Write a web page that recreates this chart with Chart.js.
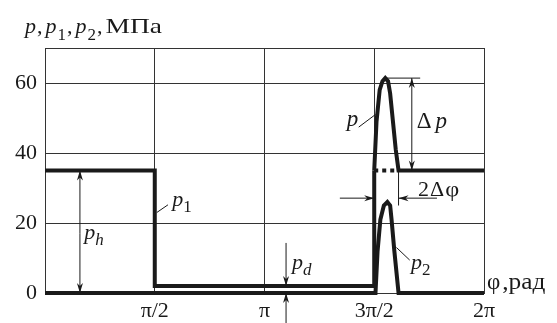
<!DOCTYPE html>
<html>
<head>
<meta charset="utf-8">
<script src="https://cdn.jsdelivr.net/npm/chart.js@4/dist/chart.umd.min.js"></script>
<style>
  body { margin: 0; background: #fff; }
  canvas { display: block; }
</style>
</head>
<body>
<canvas id="pressureChart" width="557" height="323"></canvas>
<script>
// tick labels
const xTickVals = [0, Math.PI / 2, Math.PI, 3 * Math.PI / 2, 2 * Math.PI];
const xTickText = ["", "π/2", "π", "3π/2", "2π"];
const yTickVals = [0, 20, 40, 60, 70];
const yTickText = ["0", "20", "40", "60", ""];

// p1 (solid part, then dotted part under the p peak)
const p1X = [0, 1.571, 1.571, 4.712, 4.712];
const p1Y = [35, 35, 2, 2, 35];
const p1DotX = [4.712, 5.05];
const p1DotY = [35, 35];

// p = p1 + p2
const pX = [4.712, 4.745, 4.79, 4.83, 4.87, 4.91, 4.94, 4.98, 5.02, 5.06, 6.283];
const pY = [35, 49, 58, 60.5, 61.4, 60.5, 57, 49, 41, 35, 35];

// p2
const p2X = [0, 4.73, 4.76, 4.8, 4.85, 4.9, 4.94, 4.96, 5.0, 5.06, 6.283];
const p2Y = [0, 0, 12, 21, 25, 26, 25, 21, 12, 0, 0];

function zip(xs, ys) {
  return xs.map((x, i) => ({ x: x, y: ys[i] }));
}

const ink = "#1a1a1a";
const serif = "'Liberation Serif', 'DejaVu Serif', serif";

function lineDs(xs, ys, dash) {
  return {
    data: zip(xs, ys),
    borderColor: ink,
    borderWidth: 4,
    borderDash: dash || [],
    pointRadius: 0,
    tension: 0,
    clip: false,
    borderJoinStyle: "miter",
  };
}

// draws text made of parts: {t, it (italic), sub, gap, sx (horizontal stretch)}
function richText(ctx, parts, x, y, size) {
  let cx = x;
  parts.forEach((pt) => {
    const fs = pt.sub ? Math.round(size * 0.76) : size;
    const sx = pt.sx || 1;
    ctx.font = (pt.it ? "italic " : "") + fs + "px " + serif;
    ctx.save();
    ctx.translate(cx, y + (pt.sub ? size * 0.3 : 0));
    ctx.scale(sx, 1);
    ctx.fillText(pt.t, 0, 0);
    ctx.restore();
    cx += ctx.measureText(pt.t).width * sx + (pt.gap || 0);
  });
}

function arrow(ctx, x1, y1, x2, y2) {
  ctx.beginPath();
  ctx.moveTo(x1, y1);
  ctx.lineTo(x2, y2);
  ctx.stroke();
  const a = Math.atan2(y2 - y1, x2 - x1);
  const len = 10, w = 3;
  ctx.beginPath();
  ctx.moveTo(x2, y2);
  ctx.lineTo(x2 - len * Math.cos(a) + w * Math.sin(a), y2 - len * Math.sin(a) - w * Math.cos(a));
  ctx.lineTo(x2 - len * Math.cos(a) * 0.7, y2 - len * Math.sin(a) * 0.7);
  ctx.lineTo(x2 - len * Math.cos(a) - w * Math.sin(a), y2 - len * Math.sin(a) + w * Math.cos(a));
  ctx.closePath();
  ctx.fill();
}

function seg(ctx, x1, y1, x2, y2) {
  ctx.beginPath();
  ctx.moveTo(x1, y1);
  ctx.lineTo(x2, y2);
  ctx.stroke();
}

const notes = {
  id: "notes",
  afterDatasetsDraw(chart) {
    const ctx = chart.ctx;
    const xs = chart.scales.x, ys = chart.scales.y;
    const X = (v) => xs.getPixelForValue(v);
    const Y = (v) => ys.getPixelForValue(v);
    ctx.save();
    ctx.strokeStyle = ink;
    ctx.fillStyle = ink;
    ctx.lineWidth = 1;
    ctx.textBaseline = "alphabetic";
    ctx.textAlign = "left";

    // axis titles
    richText(ctx, [
      { t: "p", it: true, gap: 1 }, { t: ",", gap: 3 },
      { t: "p", it: true, gap: 1 }, { t: "1", sub: true, gap: 1 }, { t: ",", gap: 3 },
      { t: "p", it: true, gap: 1 }, { t: "2", sub: true, gap: 1 }, { t: ",", gap: 3 },
      { t: "МПа", sx: 1.25 },
    ], 25, 33, 22);
    richText(ctx, [{ t: "φ", gap: 2 }, { t: ",рад", sx: 1.1 }], 487, 289, 23);

    // p_h
    arrow(ctx, X(0.5), Y(17), X(0.5), Y(35));
    arrow(ctx, X(0.5), Y(17), X(0.5), Y(0));
    richText(ctx, [{ t: "p", it: true }, { t: "h", it: true, sub: true }], X(0.56), Y(15.5), 22);

    // p1 label
    seg(ctx, X(1.6), Y(23), X(1.76), Y(25.2));
    richText(ctx, [{ t: "p", it: true }, { t: "1", sub: true }], X(1.82), Y(25), 22);

    // p label
    seg(ctx, X(4.49), Y(47.4), X(4.73), Y(51));
    richText(ctx, [{ t: "p", it: true }], X(4.32), Y(47.8), 23);

    // delta p
    seg(ctx, X(4.87), Y(61.4), X(5.37), Y(61.4));
    arrow(ctx, X(5.25), Y(48), X(5.25), Y(61.4));
    arrow(ctx, X(5.25), Y(48), X(5.25), Y(35));
    richText(ctx, [{ t: "Δ", gap: 4 }, { t: "p", it: true }], X(5.32), Y(47.2), 23);

    // 2 delta phi
    seg(ctx, X(5.06), Y(35), X(5.06), Y(25));
    arrow(ctx, X(4.22), Y(27.1), X(4.712), Y(27.1));
    arrow(ctx, X(5.61), Y(27.1), X(5.06), Y(27.1));
    richText(ctx, [{ t: "2", gap: 1 }, { t: "Δ", gap: 1 }, { t: "φ", sx: 1.1 }], X(5.34), Y(27.8), 22);

    // p2 label
    seg(ctx, X(5.03), Y(13), X(5.22), Y(9.4));
    richText(ctx, [{ t: "p", it: true }, { t: "2", sub: true }], X(5.24), Y(7), 22);

    // p_d
    arrow(ctx, X(3.45), Y(14.3), X(3.45), Y(2));
    arrow(ctx, X(3.45), Y(-8.6), X(3.45), Y(0));
    richText(ctx, [{ t: "p", it: true }, { t: "d", it: true, sub: true }], X(3.535), Y(7), 22);

    ctx.restore();
  },
};

const ctx = document.getElementById("pressureChart").getContext("2d");
const pressureChart = new Chart(ctx, {
  type: "line",
  data: {
    datasets: [
      lineDs(p1X, p1Y),
      lineDs(p1DotX, p1DotY, [4, 4]),
      lineDs(pX, pY),
      lineDs(p2X, p2Y),
    ],
  },
  options: {
    responsive: false,
    animation: false,
    layout: { padding: { left: 0, top: 48, right: 73, bottom: 0 } },
    scales: {
      x: {
        type: "linear",
        min: 0,
        max: 2 * Math.PI,
        afterBuildTicks: (s) => { s.ticks = xTickVals.map((v) => ({ value: v })); },
        afterFit: (s) => { s.height = 30; },
        ticks: {
          autoSkip: false,
          maxRotation: 0,
          padding: 5,
          color: ink,
          font: { family: serif, size: 22 },
          callback: (v, i) => xTickText[i],
        },
        grid: { color: "#333", lineWidth: 1, drawTicks: false },
        border: { display: true, color: "#333" },
      },
      y: {
        min: 0,
        max: 70,
        afterBuildTicks: (s) => { s.ticks = yTickVals.map((v) => ({ value: v })); },
        afterFit: (s) => { s.width = 45; },
        ticks: {
          padding: 8,
          color: ink,
          font: { family: serif, size: 22 },
          callback: (v, i) => yTickText[i],
        },
        grid: { color: "#333", lineWidth: 1, drawTicks: false },
        border: { display: true, color: "#333" },
      },
    },
    plugins: {
      legend: { display: false },
      tooltip: { enabled: false },
    },
  },
  plugins: [notes],
});
</script>
</body>
</html>
